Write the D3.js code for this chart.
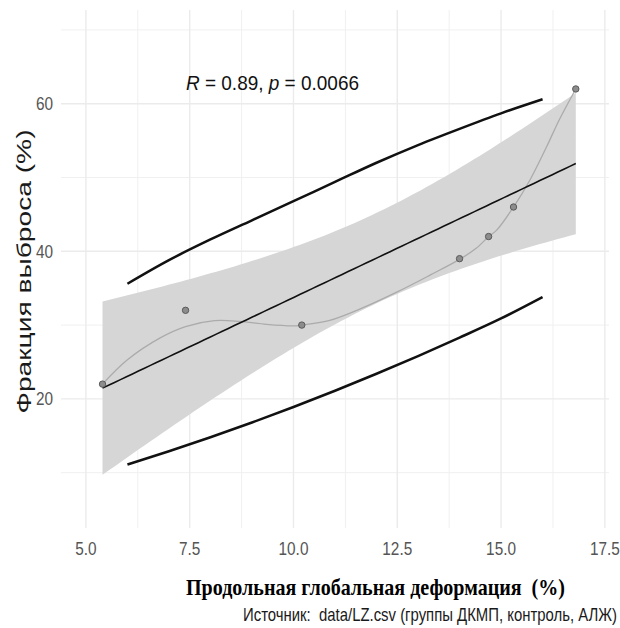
<!DOCTYPE html>
<html>
<head>
<meta charset="utf-8">
<script src="https://cdn.jsdelivr.net/npm/d3@7"></script>
<style>
    html, body { margin: 0; padding: 0; background: #fff; }
    svg { display: block; }
</style>
</head>
<body>
<div id="chart"></div>
<script>
// Observed points.
var strainValues = [5.4, 7.4, 10.2, 14.0, 14.7, 15.3, 16.8];
var efValues = [22, 32, 30, 39, 42, 46, 62];

// Smooth curve through the points.
var smoothX = [5.4, 6.0, 6.8, 7.4, 8.1, 8.7, 9.35, 10.0, 10.2, 10.85, 11.65, 12.5, 13.3, 14.0, 14.4, 14.7, 14.9, 15.3, 15.7, 16.1, 16.4, 16.8];
var smoothY = [22.0, 25.3, 28.3, 29.8, 30.6, 30.5, 30.1, 29.9, 30.0, 30.6, 32.3, 34.5, 36.8, 38.9, 40.4, 42.0, 42.9, 46.0, 49.7, 54.2, 57.8, 62.0];

// Outer interval lines.
var predX = [6, 7, 8, 9, 10, 11, 12, 13, 14, 15, 16];
var predUpper = [35.6, 38.8, 41.6, 44.2, 46.8, 49.4, 52.0, 54.4, 56.6, 58.7, 60.6];
var predLower = [11.1, 12.9, 14.8, 16.8, 18.9, 21.1, 23.4, 25.8, 28.3, 30.9, 33.8];

// Axes.
var xTicks = [5, 7.5, 10, 12.5, 15, 17.5];
var xMinor = [6.25, 8.75, 11.25, 13.75, 16.25];
var yTicks = [20, 40, 60];
var yMinor = [10, 30, 50, 70];

var statLabel = ['R', ' = 0.89, ', 'p', ' = 0.0066'];
var xTitle = 'Продольная глобальная деформация  (%)';
var yTitle = 'Фракция выброса (%)';
var caption = 'Источник:  data/LZ.csv (группы ДКМП, контроль, АЛЖ)';

var T_CRIT = 2.5706; // t(0.975, df = 5)

var _width = 620, _height = 628;
var _left = 61, _right = 609, _top = 10, _bottom = 528;

var svg = d3.select('#chart').append('svg')
    .attr('width', _width)
    .attr('height', _height);

var x = d3.scaleLinear().domain([4.4, 17.6]).range([_left, _right]);
var y = d3.scaleLinear().domain([2.5, 72.7]).range([_bottom, _top]);

// Grid.
var grid = svg.append('g');
grid.selectAll('.vmin').data(xMinor).enter().append('line')
    .attr('x1', d => x(d)).attr('x2', d => x(d))
    .attr('y1', _top).attr('y2', _bottom)
    .attr('stroke', '#f0f0f0').attr('stroke-width', 1);
grid.selectAll('.hmin').data(yMinor).enter().append('line')
    .attr('x1', _left).attr('x2', _right)
    .attr('y1', d => y(d)).attr('y2', d => y(d))
    .attr('stroke', '#f0f0f0').attr('stroke-width', 1);
grid.selectAll('.vmaj').data(xTicks).enter().append('line')
    .attr('x1', d => x(d)).attr('x2', d => x(d))
    .attr('y1', _top).attr('y2', _bottom)
    .attr('stroke', '#ebebeb').attr('stroke-width', 1.4);
grid.selectAll('.hmaj').data(yTicks).enter().append('line')
    .attr('x1', _left).attr('x2', _right)
    .attr('y1', d => y(d)).attr('y2', d => y(d))
    .attr('stroke', '#ebebeb').attr('stroke-width', 1.4);

// Linear fit with 95% confidence band.
function linearFit(xs, ys) {
    var n = xs.length;
    var mx = d3.mean(xs), my = d3.mean(ys);
    var sxx = d3.sum(xs, v => (v - mx) * (v - mx));
    var sxy = d3.sum(xs, (v, i) => (v - mx) * (ys[i] - my));
    var slope = sxy / sxx;
    var intercept = my - slope * mx;
    var rss = d3.sum(xs, (v, i) => Math.pow(ys[i] - (intercept + slope * v), 2));
    var s = Math.sqrt(rss / (n - 2));
    return {
        predict: v => intercept + slope * v,
        se: v => s * Math.sqrt(1 / n + (v - mx) * (v - mx) / sxx)
    };
}

var fit = linearFit(strainValues, efValues);
var xExtent = d3.extent(strainValues);
var bandData = d3.range(80).map(i => {
    var v = xExtent[0] + (xExtent[1] - xExtent[0]) * i / 79;
    var m = fit.predict(v), e = T_CRIT * fit.se(v);
    return { x: v, lo: m - e, hi: m + e, fit: m };
});

svg.append('path')
    .datum(bandData)
    .attr('fill', '#d6d6d6')
    .attr('d', d3.area().x(d => x(d.x)).y0(d => y(d.lo)).y1(d => y(d.hi)));

// Smooth curve.
svg.append('path')
    .datum(smoothX.map((v, i) => [v, smoothY[i]]))
    .attr('fill', 'none')
    .attr('stroke', '#ababab')
    .attr('stroke-width', 1.3)
    .attr('d', d3.line().x(d => x(d[0])).y(d => y(d[1])).curve(d3.curveCatmullRom.alpha(0.5)));

// Regression line.
svg.append('path')
    .datum(bandData)
    .attr('fill', 'none')
    .attr('stroke', '#111')
    .attr('stroke-width', 1.6)
    .attr('d', d3.line().x(d => x(d.x)).y(d => y(d.fit)));

// Interval lines.
[predUpper, predLower].forEach(function(series) {
    svg.append('path')
        .datum(predX.map((v, i) => [v, series[i]]))
        .attr('fill', 'none')
        .attr('stroke', '#111')
        .attr('stroke-width', 2.5)
        .attr('d', d3.line().x(d => x(d[0])).y(d => y(d[1])).curve(d3.curveMonotoneX));
});

// Points.
svg.selectAll('.pt').data(strainValues).enter().append('circle')
    .attr('cx', d => x(d))
    .attr('cy', (d, i) => y(efValues[i]))
    .attr('r', 3.2)
    .attr('fill', '#8c8c8c')
    .attr('stroke', '#5a5a5a')
    .attr('stroke-width', 1);

// Tick labels (the original is horizontally squeezed).
var tickFont = 'Liberation Sans, Arial, sans-serif';
svg.selectAll('.xt').data(xTicks).enter().append('text')
    .attr('transform', d => 'translate(' + x(d) + ',555) scale(0.83,1)')
    .attr('text-anchor', 'middle')
    .attr('font-family', tickFont)
    .attr('font-size', 18.5)
    .attr('fill', '#555')
    .text(d => d3.format('.1f')(d));

svg.selectAll('.yt').data(yTicks).enter().append('text')
    .attr('transform', d => 'translate(53,' + (y(d) + 6.5) + ') scale(0.83,1)')
    .attr('text-anchor', 'end')
    .attr('font-family', tickFont)
    .attr('font-size', 18.5)
    .attr('fill', '#555')
    .text(d => d);

// Correlation label.
var stat = svg.append('text')
    .attr('x', 186).attr('y', 90)
    .attr('font-family', tickFont)
    .attr('font-size', 21)
    .attr('fill', '#111')
    .attr('textLength', 173)
    .attr('lengthAdjust', 'spacingAndGlyphs')
    .style('white-space', 'pre');
stat.selectAll('tspan').data(statLabel).enter().append('tspan')
    .attr('font-style', (d, i) => i % 2 == 0 ? 'italic' : 'normal')
    .text(d => d);

// Axis titles.
svg.append('text')
    .attr('x', 186).attr('y', 595)
    .attr('font-family', 'Liberation Serif, Times New Roman, serif')
    .attr('font-weight', 'bold')
    .attr('font-size', 24)
    .attr('fill', '#000')
    .attr('textLength', 379)
    .attr('lengthAdjust', 'spacingAndGlyphs')
    .style('white-space', 'pre')
    .text(xTitle);

svg.append('text')
    .attr('transform', 'translate(31,271.5) scale(0.83,1) rotate(-90)')
    .attr('text-anchor', 'middle')
    .attr('font-family', tickFont)
    .attr('font-size', 24)
    .attr('fill', '#1a1a1a')
    .attr('textLength', 284)
    .attr('lengthAdjust', 'spacingAndGlyphs')
    .style('white-space', 'pre')
    .text(yTitle);

svg.append('text')
    .attr('x', 243).attr('y', 621)
    .attr('font-family', tickFont)
    .attr('font-size', 19)
    .attr('fill', '#1a1a1a')
    .attr('textLength', 374)
    .attr('lengthAdjust', 'spacingAndGlyphs')
    .style('white-space', 'pre')
    .text(caption);
</script>
</body>
</html>
